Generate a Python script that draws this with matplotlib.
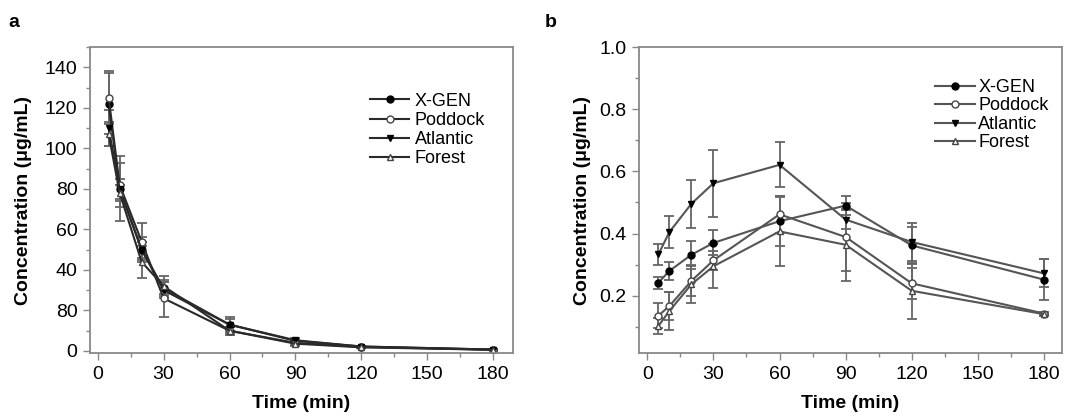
import matplotlib
matplotlib.use("Agg")
import matplotlib.pyplot as plt
from matplotlib.ticker import MultipleLocator

plt.rcParams['font.family'] = ['Liberation Sans', 'DejaVu Sans']

times = [5, 10, 20, 30, 60, 90, 120, 180]
names = ["X-GEN", "Poddock", "Atlantic", "Forest"]

# panel a: plasma concentration (ug/mL)
a_xgen = [122, 80, 50, 31, 13, 5, 2.2, 0.7]
a_poddock = [125, 82, 54, 26, 10, 4, 2.0, 0.6]
a_atlantic = [110, 80, 50, 30, 13, 5.3, 2.2, 0.7]
a_forest = [107, 78, 44, 32, 10, 3.6, 1.8, 0.6]
a_xgen_err = [15, 5, 4, 3, 4, 1, 0.5, 0.3]
a_poddock_err = [13, 11, 9, 9, 2, 1, 0.5, 0.3]
a_atlantic_err = [9, 16, 6, 4, 3, 1, 0.5, 0.3]
a_forest_err = [6, 4, 8, 5, 2, 1, 0.5, 0.3]
a_ytick_labels = ["0", "80", "40", "60", "80", "100", "120", "140"]

# panel b
b_xgen = [0.242, 0.28, 0.332, 0.37, 0.44, 0.49, 0.362, 0.252]
b_poddock = [0.136, 0.167, 0.248, 0.314, 0.462, 0.389, 0.24, 0.143]
b_atlantic = [0.333, 0.405, 0.496, 0.562, 0.621, 0.445, 0.373, 0.272]
b_forest = [0.103, 0.151, 0.237, 0.295, 0.407, 0.364, 0.216, 0.141]
b_xgen_err = [0.02, 0.03, 0.045, 0.04, 0.08, 0.03, 0.06, 0.065]
b_poddock_err = [0.04, 0.045, 0.05, 0.03, 0.06, 0.11, 0.05, 0.005]
b_atlantic_err = [0.033, 0.052, 0.077, 0.108, 0.072, 0.03, 0.06, 0.045]
b_forest_err = [0.025, 0.06, 0.06, 0.07, 0.11, 0.115, 0.09, 0.005]

styles = [
    dict(marker='o', mfc='black', mec='black'),
    dict(marker='o', mfc='white', mec='#444444'),
    dict(marker='v', mfc='black', mec='black'),
    dict(marker='^', mfc='white', mec='#444444'),
]

fig = plt.figure(figsize=(10.75, 4.19), dpi=100)
ax1 = fig.add_axes([0.0837, 0.1575, 0.3935, 0.7303])
ax2 = fig.add_axes([0.5944, 0.1575, 0.3935, 0.7303])


def draw(ax, series, errs, line_color, ms):
    handles = []
    for name, y, e, st in zip(names, series, errs, styles):
        c = ax.errorbar(times, y, yerr=e, color=line_color, ecolor='#666666', elinewidth=1.3,
                        capsize=3.5, capthick=1.3, lw=1.5, ms=ms, **st)
        handles.append(c[0])
    return handles


h1 = draw(ax1, [a_xgen, a_poddock, a_atlantic, a_forest],
          [a_xgen_err, a_poddock_err, a_atlantic_err, a_forest_err], '#2a2a2a', 5)
h2 = draw(ax2, [b_xgen, b_poddock, b_atlantic, b_forest],
          [b_xgen_err, b_poddock_err, b_atlantic_err, b_forest_err], '#555555', 5)

ax1.set_xlim(-3.5, 189)
ax1.set_ylim(-1, 150)
ax1.set_yticks(range(0, 141, 20))
ax1.set_yticklabels(a_ytick_labels)
ax1.yaxis.set_minor_locator(MultipleLocator(10))

ax2.set_xlim(-3.8, 188.2)
ax2.set_ylim(0.016, 1.0)
ax2.set_yticks([0.2, 0.4, 0.6, 0.8, 1.0])
ax2.yaxis.set_minor_locator(MultipleLocator(0.1))

for ax in (ax1, ax2):
    ax.set_xticks(range(0, 181, 30))
    ax.xaxis.set_minor_locator(MultipleLocator(15))
    ax.tick_params(which='major', length=5, width=1, color='#888888', labelsize=14, pad=4)
    ax.tick_params(which='minor', length=3, width=1, color='#888888')
    for sp in ax.spines.values():
        sp.set_color('#888888')
        sp.set_linewidth(1.3)
    ax.set_xlabel("Time (min)", fontsize=14, fontweight='bold', labelpad=9)
ax1.set_ylabel("Concentration (μg/mL)", fontsize=14, fontweight='bold', labelpad=9)
ax2.set_ylabel("Concentration (μg/mL)", fontsize=14, fontweight='bold', labelpad=6)

ax1.legend(h1, names, loc='upper left', bbox_to_anchor=(0.64, 0.88), frameon=False,
           fontsize=13, handlelength=2.2, handletextpad=0.3, labelspacing=0.12, borderpad=0)
ax2.legend(h2, names, loc='upper left', bbox_to_anchor=(0.678, 0.925), frameon=False,
           fontsize=13, handlelength=2.2, handletextpad=0.2, labelspacing=0.08, borderpad=0)

fig.text(0.008, 0.935, "a", fontsize=14, fontweight='bold')
fig.text(0.507, 0.935, "b", fontsize=14, fontweight='bold')

fig.savefig("out.png", dpi=100)
